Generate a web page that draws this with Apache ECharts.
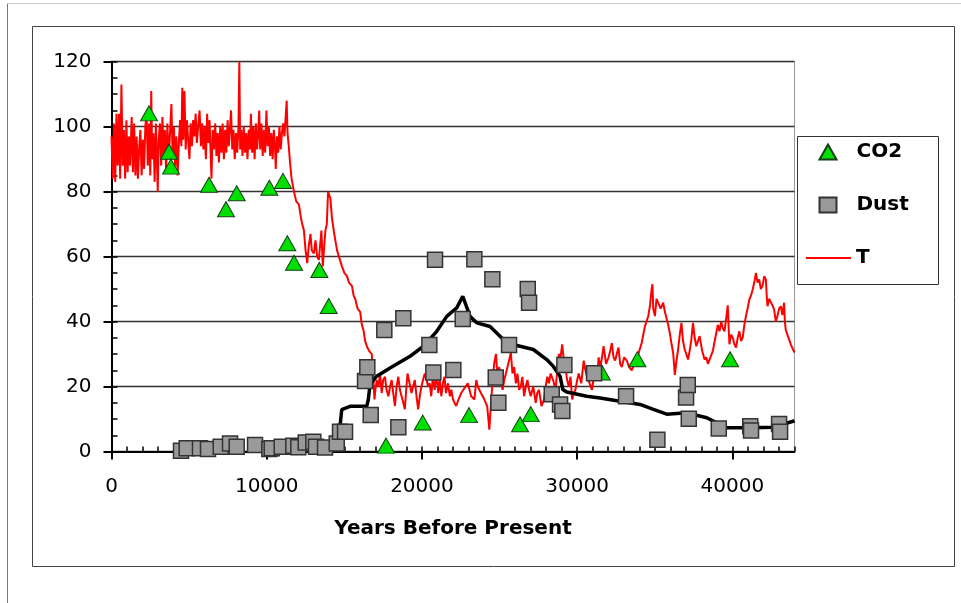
<!DOCTYPE html>
<html><head><meta charset="utf-8">
<script src="https://cdn.jsdelivr.net/npm/echarts@6/dist/echarts.min.js"></script>
<style>html,body{margin:0;padding:0;background:#fff}#c{width:961px;height:603px}</style>
</head><body><div id="c"></div>
<script>
const xTickLabels = [0, 10000, 20000, 30000, 40000];
const legendNames = ['CO2', 'Dust', 'T'];

const co2Years = [2416, 3705, 3834, 6282, 7377, 8067, 10167, 11050, 11327, 11758, 13389, 13994, 17686, 20051, 23034, 26320, 27009, 31583, 33877, 39851];
const co2Values = [104.1, 92.3, 87.7, 82.1, 74.6, 79.5, 81.2, 83.3, 64.1, 58.1, 55.9, 44.8, 1.8, 8.9, 11.2, 8.4, 11.5, 24.3, 28.4, 28.4];

const dustYears = [4478, 4845, 5702, 6217, 7036, 7635, 8067, 9246, 10167, 10322, 10966, 11713, 12035, 12512, 13002, 13176, 13756, 14510, 14723, 15045, 16333, 16481, 16700, 17576, 18478, 18800, 20476, 20733, 20843, 22022, 22627, 23375, 24535, 24754, 24922, 25611, 26816, 26900, 28362, 28897, 29045, 29174, 31087, 33149, 35166, 37015, 37124, 37189, 39122, 41150, 41200, 43007, 43072];
const dustValues = [0.2, 1.0, 1.0, 0.8, 1.5, 2.5, 1.5, 2.0, 0.8, 1.0, 1.5, 1.8, 1.3, 2.8, 3.0, 1.5, 1.2, 2.5, 6.1, 6.1, 21.7, 25.9, 11.2, 37.4, 7.5, 41.0, 32.8, 24.3, 59.0, 25.1, 40.8, 59.2, 53.0, 22.8, 15.0, 32.8, 50.0, 45.8, 17.6, 14.5, 12.5, 26.6, 24.1, 17.0, 3.6, 16.6, 20.5, 10.1, 7.1, 7.8, 6.5, 8.5, 6.1];

const blackYears = [14400, 14510, 14723, 14832, 15366, 16442, 16546, 16655, 17087, 17944, 19232, 20089, 20953, 21597, 22241, 22628, 23098, 23530, 24387, 25031, 25463, 27177, 28040, 28465, 28897, 29071, 29328, 30617, 31474, 32762, 34051, 34908, 35771, 37060, 38348, 38993, 39637, 41332, 42620, 43910, 44000];
const blackValues = [2, 4.7, 7.8, 12.9, 13.9, 13.9, 16, 20.6, 23.2, 25.7, 29.3, 32.4, 37, 41.6, 44.2, 47.8, 41.6, 39.6, 38.5, 35.5, 33.4, 31.4, 28.3, 26.2, 23.2, 19.1, 18.3, 17, 16.5, 15.5, 14.5, 13, 11.5, 11.9, 10.4, 8.8, 7.3, 7.3, 7.5, 9.3, 9.5];

const tYears = [0,80,160,240,320,400,480,560,640,720,800,880,960,1040,1120,1200,1300,1380,1460,1540,1620,1700,1780,1860,1940,2020,2100,2180,2260,2340,2420,2500,2560,2620,2700,2780,2860,2940,2980,3040,3120,3200,3280,3360,3440,3520,3600,3680,3760,3860,3940,4020,4100,4180,4260,4340,4420,4500,4560,4620,4700,4780,4860,4940,5020,5100,5180,5260,5340,5420,5500,5580,5675,5760,5840,5920,6000,6080,6160,6240,6320,6400,6440,6520,6600,6680,6760,6840,6920,7000,7080,7160,7240,7320,7400,7480,7560,7640,7700,7780,7860,7940,8020,8100,8180,8235,8290,8360,8440,8520,8600,8680,8760,8840,8920,8980,9060,9140,9220,9300,9380,9460,9515,9580,9660,9740,9820,9900,9980,10060,10140,10220,10300,10380,10460,10540,10580,10660,10740,10820,10900,10980,11060,11140,11220,11285,11340,11420,11500,
11600,11755,11900,12077,12200,12288,12397,12500,12608,12700,12819,12900,13037,13139,13250,13357,13450,13523,13613,13700,13779,13870,13952,14020,14099,14200,14317,14420,14528,14650,14848,15000,15168,15300,15488,15600,15699,15850,16019,16128,16250,16339,16480,16595,16768,16813,16900,16941,17000,17088,17200,17299,17408,17500,17619,17720,17837,17950,18048,18150,18259,18370,18477,18580,18688,18800,18899,19000,19072,19200,19328,19430,19539,19650,19757,19860,19968,20070,20179,20300,20397,20500,20600,20700,20819,20950,21050,21150,21248,21350,21450,21550,21677,21800,21888,22000,22100,22208,22350,22528,
22955,23170,23381,23500,23595,23800,24021,24200,24341,24450,24555,24650,24768,24870,24981,25090,25195,25300,25408,25560,25728,25830,25941,26050,26155,26260,26368,26470,26581,26690,26795,26900,27008,27170,27328,27430,27541,27700,27861,27970,28075,28180,28288,28450,28608,28700,28821,28930,29035,29140,29248,29350,29461,29570,29675,29780,29888,30000,30101,30260,30421,30530,30635,30800,30955,31100,31275,31380,31488,31600,31701,31860,32021,32130,32235,32340,32448,32550,32661,32770,32875,33030,33195,33350,33515,33680,33835,34000,34155,34260,34368,34470,34581,34690,34795,34850,34900,35008,35110,35221,35380,35541,35650,35755,35860,35968,36080,36181,36240,36288,36400,36501,36610,36715,36820,36928,37030,37141,37250,37355,37461,37570,37675,37780,37888,38050,38208,38320,38421,38580,38741,38900,39061,39170,39275,39380,39488,39600,39701,39760,39808,39915,40021,40130,40235,40340,40448,40560,40661,40770,40875,40980,41088,41200,41301,41410,41515,41620,41728,41830,41941,42050,42155,42210,42261,42370,42475,42580,42688,42800,42901,43010,43115,43220,43328,43380,43435,43540,43648,43760,43904,44000];
const tValues = [97,84,101,83,104,88,104,84,113,88,99,84,102,86,97,88,103,86,101,85,97,84,93,99,85,96,87,100,104,88,101,85,111,90,98,83,101,87,80,96,101,88,103,91,99,86,101,90,97,107,90,100,88,97,85,95,102,94,112,96,111,93,102,96,90,101,94,102,97,104,95,100,105,94,101,93,100,90,104,95,102,90,84,99,93,101,91,98,89,100,92,101,90,99,92,102,94,100,105,93,99,90,98,92,100,120,93,99,91,100,92,98,90,99,93,104,92,100,90,101,93,99,105,93,101,91,99,92,105,94,100,91,98,90,99,93,87,97,92,100,93,98,101,97,103,108,98,94,89,
84,80,77,76,72,70,68,62,58,63,67,62,61,65,60,59,64,68,57,63,68,70,80,79,78,72,68,65,62,60,57,55,54,52,51,48,47,44,43,39,37,34,32,31,30,26,20,16,19,22,20,24,18,22,23,19,17,20,22,18,14,20,23,19,17,15,13,20,24,21,18,20,22,17,13,17,20,22,24,22,20,21,17,23,19,24,18,22,17,21,23,18,21,17,19,16,15,14,16,18,
21,17,16,22,20,18,16,14,6.7,15,22,27,30,23,26,21,19,22,24,27,30.4,24,26,21,24,19,20,23,17,20,22,19,17,20,15,18,19,14,16,20,23,21,24,22,19,24,30,29,33,28,26,22,20,23,16,18,19,22,24,21,28,25,23,21,19,24,22,29,26,29,32.4,27,29,31,33.4,29,28,30,32,27,26,29,28,26,25,27,28,31,33.4,36,38.6,40,41.7,45,50,51.5,44,41.7,47,46.8,44,45.8,43,42.7,39,36.5,33,30.4,27,23.6,28,31.4,36,39.6,34,31.4,30,28.3,31,34.5,39.6,35,32.4,34,35.5,31,28.3,29,27,29,31,35,39,37,40,38,37,41,45,38,33,36,35,33,32,35,37,34,35,39,41.7,44,46.8,48,49.8,52,55,52,53,50,51,54,53,48,44.7,47,46.8,45,43.7,40,41.7,44,44.7,42,45.8,40,37.5,36,34.5,33,31.4,30.5];

const zip = (a, b) => a.map((v, i) => [v, b[i]]);
const FONT = 'DejaVu Sans';
const legendText = { fontFamily: FONT, fontWeight: 'bold', fontSize: 20, color: '#000' };
const chart = echarts.init(document.getElementById('c'), null, { renderer: 'canvas' });

chart.setOption({
  animation: false,
  backgroundColor: '#fff',
  grid: { left: 111.5, top: 61.7, width: 683, height: 389.8, show: true, borderColor: '#999', borderWidth: 1, outerBoundsMode: 'none', containLabel: false },
  graphic: [
    { type: 'rect', silent: true, z: 0, shape: { x: 32.5, y: 26.5, width: 922, height: 540 }, style: { fill: 'none', stroke: '#444', lineWidth: 1 } },
    { type: 'rect', silent: true, z: 0, shape: { x: 797.5, y: 136.5, width: 141, height: 148 }, style: { fill: '#fff', stroke: '#333', lineWidth: 1 } },
    { type: 'line', silent: true, shape: { x1: 7.5, y1: 3, x2: 7.5, y2: 603 }, style: { stroke: '#777', lineWidth: 1 } },
    { type: 'line', silent: true, shape: { x1: 7, y1: 3.5, x2: 961, y2: 3.5 }, style: { stroke: '#ccc', lineWidth: 1 } }
  ],
  legend: [
    {
      data: [legendNames[0], legendNames[1]],
      orient: 'vertical', left: 818.5, top: 142, padding: 0,
      itemWidth: 17, itemHeight: 15, itemGap: 33, selectedMode: false, z: 10,
      textStyle: Object.assign({ padding: [0, 0, 0, 15] }, legendText)
    },
    {
      data: [{ name: legendNames[2], icon: 'path://M0,0H45V2H0Z' }],
      orient: 'vertical', left: 806, top: 248, padding: 0,
      itemWidth: 45, itemHeight: 2, selectedMode: false, z: 10,
      textStyle: legendText
    }
  ],
  xAxis: [
    {
      type: 'value', min: 0, max: 44000, interval: 10000, position: 'bottom',
      axisLine: { show: true, onZero: false, lineStyle: { color: '#000', width: 2 } },
      axisTick: { show: true, inside: false, length: 8, customValues: xTickLabels, lineStyle: { color: '#000', width: 2 } },
      axisLabel: { customValues: xTickLabels, formatter: v => String(v), margin: 25, fontFamily: FONT, fontSize: 20, color: '#000' },
      splitLine: { show: false },
      name: 'Years Before Present', nameLocation: 'middle', nameGap: 67,
      nameTextStyle: { fontFamily: FONT, fontWeight: 'bold', fontSize: 20, color: '#000' }
    },
    {
      type: 'value', min: 0, max: 44000, interval: 1000, position: 'bottom',
      axisLine: { show: false }, axisLabel: { show: false }, splitLine: { show: false },
      axisTick: { show: true, inside: true, length: 5, lineStyle: { color: '#000', width: 1.5 } }
    }
  ],
  yAxis: [
    {
      type: 'value', min: 0, max: 120, interval: 20, position: 'left',
      axisLine: { show: true, onZero: false, lineStyle: { color: '#000', width: 2 } },
      axisTick: { show: true, inside: false, length: 8, lineStyle: { color: '#000', width: 2 } },
      axisLabel: { margin: 20, fontFamily: FONT, fontSize: 20, color: '#000' },
      splitLine: { show: true, lineStyle: { color: '#333', width: 1.3 } }
    },
    {
      type: 'value', min: 0, max: 120, interval: 5, position: 'left',
      axisLine: { show: false }, axisLabel: { show: false }, splitLine: { show: false },
      axisTick: { show: true, inside: true, length: 6, lineStyle: { color: '#000', width: 1.5 } }
    }
  ],
  series: [
    { name: 'T', type: 'line', xAxisIndex: 0, yAxisIndex: 0, z: 2, data: zip(tYears, tValues),
      symbol: 'none', showSymbol: false, lineStyle: { color: '#ff0000', width: 2 }, itemStyle: { color: '#ff0000' } },
    { name: 'Index', type: 'line', xAxisIndex: 0, yAxisIndex: 0, z: 3, data: zip(blackYears, blackValues),
      symbol: 'none', showSymbol: false, lineStyle: { color: '#000', width: 3.5 }, itemStyle: { color: '#000' } },
    { name: 'CO2', type: 'scatter', xAxisIndex: 0, yAxisIndex: 0, z: 4, data: zip(co2Years, co2Values),
      symbol: 'triangle', symbolSize: [17, 15], itemStyle: { color: '#00e000', borderColor: '#143f14', borderWidth: 1, opacity: 1 } },
    { name: 'Dust', type: 'scatter', xAxisIndex: 0, yAxisIndex: 0, z: 5, data: zip(dustYears, dustValues),
      symbol: 'rect', symbolSize: 15, itemStyle: { color: '#9a9a9a', borderColor: '#333', borderWidth: 1.5, opacity: 1 } }
  ]
});
</script>
</body></html>
